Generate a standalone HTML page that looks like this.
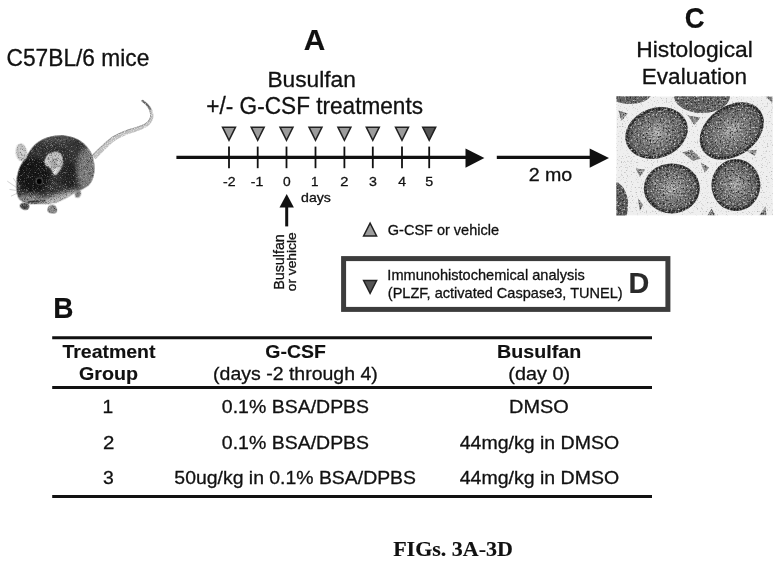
<!DOCTYPE html>
<html><head><meta charset="utf-8"><title>FIGs. 3A-3D</title>
<style>html,body{margin:0;padding:0;background:#fff;}svg{display:block}</style></head>
<body>
<svg width="780" height="565" viewBox="0 0 780 565">
<rect width="780" height="565" fill="#fff"/>
<defs>
<filter id="grainD" x="-5%" y="-5%" width="110%" height="110%" color-interpolation-filters="sRGB">
  <feTurbulence type="fractalNoise" baseFrequency="0.55" numOctaves="2" seed="7" result="n"/>
  <feColorMatrix in="n" type="matrix" values="0 0 0 0 0.92  0 0 0 0 0.92  0 0 0 0 0.92  0 0 0 2.6 -1.38" result="w"/>
  <feComposite in="w" in2="SourceGraphic" operator="in" result="sp"/>
  <feTurbulence type="fractalNoise" baseFrequency="0.6" numOctaves="2" seed="21" result="n2"/>
  <feColorMatrix in="n2" type="matrix" values="0 0 0 0 0.12  0 0 0 0 0.12  0 0 0 0 0.12  0 0 0 3 -1.45" result="k"/>
  <feComposite in="k" in2="SourceGraphic" operator="in" result="sk"/>
  <feMerge><feMergeNode in="SourceGraphic"/><feMergeNode in="sk"/><feMergeNode in="sp"/></feMerge>
</filter>
<filter id="grainL" x="0" y="0" width="100%" height="100%" color-interpolation-filters="sRGB">
  <feTurbulence type="fractalNoise" baseFrequency="0.8" numOctaves="1" seed="4" result="n"/>
  <feColorMatrix in="n" type="matrix" values="0 0 0 0 0.5  0 0 0 0 0.5  0 0 0 0 0.5  0 0 0 2.4 -1.4" result="k"/>
  <feComposite in="k" in2="SourceGraphic" operator="in" result="sk"/>
  <feMerge><feMergeNode in="SourceGraphic"/><feMergeNode in="sk"/></feMerge>
</filter>
<filter id="fur" x="-10%" y="-10%" width="120%" height="120%" color-interpolation-filters="sRGB">
  <feTurbulence type="fractalNoise" baseFrequency="0.22" numOctaves="2" seed="11" result="n"/>
  <feColorMatrix in="n" type="matrix" values="0 0 0 0 1  0 0 0 0 1  0 0 0 0 1  0 0 0 1.5 -0.82" result="w"/>
  <feComposite in="w" in2="SourceGraphic" operator="in" result="sp"/>
  <feTurbulence type="fractalNoise" baseFrequency="0.25" numOctaves="2" seed="31" result="n2"/>
  <feColorMatrix in="n2" type="matrix" values="0 0 0 0 0  0 0 0 0 0  0 0 0 0 0  0 0 0 1.6 -0.8" result="k"/>
  <feComposite in="k" in2="SourceGraphic" operator="in" result="sk"/>
  <feMerge><feMergeNode in="SourceGraphic"/><feMergeNode in="sk"/><feMergeNode in="sp"/></feMerge>
</filter>
<filter id="furT" x="-10%" y="-10%" width="120%" height="120%" color-interpolation-filters="sRGB">
  <feTurbulence type="fractalNoise" baseFrequency="0.9" numOctaves="1" seed="5" result="n"/>
  <feColorMatrix in="n" type="matrix" values="0 0 0 0 1  0 0 0 0 1  0 0 0 0 1  0 0 0 2.4 -1.1" result="w"/>
  <feComposite in="w" in2="SourceGraphic" operator="in" result="sp"/>
  <feMerge><feMergeNode in="SourceGraphic"/><feMergeNode in="sp"/></feMerge>
</filter>
<radialGradient id="tub" cx="50%" cy="50%" r="50%">
  <stop offset="0" stop-color="#b2b2b2"/><stop offset="0.35" stop-color="#858585"/><stop offset="0.8" stop-color="#666"/><stop offset="1" stop-color="#464646"/>
</radialGradient>
<radialGradient id="bodyg" cx="40%" cy="35%" r="75%">
  <stop offset="0" stop-color="#222"/><stop offset="0.55" stop-color="#333"/><stop offset="0.85" stop-color="#5a5a5a"/><stop offset="1" stop-color="#888"/>
</radialGradient>
<clipPath id="hclip"><rect x="616.3" y="96.3" width="156.6" height="119.3"/></clipPath>
</defs>
<!-- histology panel -->
<g clip-path="url(#hclip)">
<rect x="616.3" y="96.3" width="156.6" height="119.3" fill="#efefef" filter="url(#grainL)"/>
<g filter="url(#grainD)">
<g fill="#8a8a8a">
<polygon points="618.5,110.5 627.7,113.6 621.5,120.8"/>
<polygon points="688.0,115.6 700.4,117.7 694.2,124.9"/>
<polygon points="682.3,152.5 691.7,149.4 700.9,158.7 692.7,160.8"/>
<polygon points="635.8,168.5 645.1,169.5 639.9,176.7"/>
<polygon points="700.7,162.5 709.0,167.6 704.9,172.7"/>
<polygon points="746.5,150.7 756.8,149.7 754.7,155.9"/>
<polygon points="637.9,198.6 643.0,204.8 639.9,211.0"/>
<polygon points="707.4,215.4 711.5,208.7 715.6,215.4"/>
<polygon points="759.3,215.2 765.4,206.4 766.5,215.2"/>
<polygon points="765.6,96.6 772.4,96.6 772.4,102.8"/>
</g>
<ellipse cx="656.5" cy="133" rx="32" ry="25" transform="rotate(-20 656.5 133)" fill="url(#tub)"/>
<ellipse cx="731.8" cy="131" rx="35" ry="25" transform="rotate(-35 731.8 131)" fill="url(#tub)"/>
<ellipse cx="671.8" cy="188.4" rx="28" ry="25" fill="url(#tub)"/>
<ellipse cx="735.9" cy="185.1" rx="24.5" ry="26" fill="url(#tub)"/>
<g fill="none" stroke="#1c1c1c" stroke-width="2.2" stroke-dasharray="1.6 1.5">
<ellipse cx="656.5" cy="133" rx="30.2" ry="23.2" transform="rotate(-20 656.5 133)"/>
<ellipse cx="731.8" cy="131" rx="33.2" ry="23.2" transform="rotate(-35 731.8 131)"/>
<ellipse cx="671.8" cy="188.4" rx="26.2" ry="23.2"/>
<ellipse cx="735.9" cy="185.1" rx="22.7" ry="24.2"/>
</g>
<ellipse cx="702" cy="96" rx="28" ry="17" fill="#666"/>
<ellipse cx="630" cy="92" rx="22" ry="12" fill="#666"/>
<ellipse cx="614" cy="205" rx="14" ry="23" fill="#5a5a5a"/>
</g>
</g>
<!-- mouse -->
<g filter="url(#furT)">
<path d="M95.6,159.3 L96.6,158.3 L97.6,157.2 L98.6,156.1 L99.6,155.1 L100.6,154.1 L101.6,153.0 L102.7,151.9 L103.8,150.8 L105.1,149.6 L106.4,148.3 L107.8,147.0 L109.1,145.6 L110.5,144.4 L111.9,143.1 L113.3,142.0 L114.7,141.0 L116.1,140.0 L117.6,139.1 L119.1,138.3 L120.6,137.5 L122.2,136.8 L123.8,136.0 L125.4,135.3 L126.9,134.7 L128.5,134.0 L130.1,133.4 L131.7,132.9 L133.3,132.4 L135.0,131.9 L136.6,131.3 L138.1,130.8 L139.6,130.2 L140.9,129.7 L142.1,129.2 L143.3,128.6 L144.4,128.1 L145.5,127.5 L146.6,126.9 L147.6,126.2 L148.5,125.5 L149.4,124.7 L150.2,123.8 L150.9,122.9 L151.5,122.0 L152.1,121.1 L152.5,120.1 L152.9,119.1 L153.2,118.1 L153.4,117.0 L153.4,116.0 L153.4,114.9 L153.3,113.9 L153.1,112.9 L152.8,111.9 L152.6,111.0 L152.3,110.1 L151.9,109.2 L151.5,108.4 L151.0,107.6 L150.5,106.8 L150.0,106.1 L149.4,105.4 L148.9,104.7 L148.3,104.1 L147.7,103.4 L147.0,102.8 L146.3,102.3 L145.7,101.8 L145.0,101.3 L144.3,100.8 L143.7,100.3 L143.0,99.8 L141.6,101.5 L142.3,102.1 L142.9,102.6 L143.5,103.1 L144.2,103.6 L144.8,104.2 L145.3,104.7 L145.8,105.2 L146.3,105.8 L146.8,106.4 L147.3,107.0 L147.7,107.7 L148.2,108.3 L148.6,109.0 L148.9,109.7 L149.2,110.4 L149.4,111.1 L149.6,111.8 L149.8,112.6 L150.0,113.5 L150.1,114.3 L150.1,115.1 L150.1,115.9 L150.1,116.6 L149.9,117.2 L149.7,117.9 L149.3,118.6 L149.0,119.3 L148.5,120.0 L148.0,120.7 L147.4,121.4 L146.8,122.0 L146.1,122.6 L145.4,123.1 L144.6,123.6 L143.7,124.0 L142.7,124.5 L141.7,124.9 L140.5,125.4 L139.3,125.8 L138.1,126.3 L136.7,126.8 L135.3,127.2 L133.7,127.7 L132.1,128.2 L130.4,128.6 L128.6,129.2 L126.9,129.8 L125.2,130.4 L123.6,131.1 L121.9,131.7 L120.2,132.4 L118.6,133.2 L116.9,134.0 L115.2,134.9 L113.6,135.8 L111.9,136.8 L110.3,138.0 L108.7,139.2 L107.1,140.5 L105.6,141.8 L104.2,143.1 L102.8,144.4 L101.4,145.7 L100.1,146.8 L98.9,148.0 L97.7,149.1 L96.6,150.1 L95.6,151.2 L94.5,152.2 L93.5,153.2 L92.5,154.2 L91.4,155.3Z" fill="#bdbdbd"/>
<path d="M92.1,155.9 L93.1,154.8 L94.1,153.8 L95.1,152.8 L96.2,151.8 L97.2,150.7 L98.3,149.7 L99.5,148.6 L100.7,147.4 L102.0,146.3 L103.3,145.0 L104.7,143.7 L106.2,142.4 L107.7,141.1 L109.2,139.8 L110.8,138.6 L112.3,137.4 L113.9,136.4 L115.6,135.5 L117.2,134.6 L118.9,133.8 L120.5,133.1 L122.2,132.4 L123.8,131.7 L125.5,131.0 L127.1,130.4 L128.8,129.8 L130.6,129.3 L132.3,128.8 L133.9,128.3 L135.5,127.9 L136.9,127.4 L138.3,126.9 L139.6,126.4 L140.8,125.9 L141.9,125.5 L143.0,125.0 L144.0,124.6 L144.9,124.1 L145.7,123.6 L146.5,123.0 L147.2,122.4 L147.8,121.7 L148.4,121.0 L148.9,120.3 L149.4,119.6 L149.8,118.8 L150.1,118.1 L150.4,117.4 L150.6,116.6 L150.6,115.9 L150.6,115.1 L150.6,114.2 L150.4,113.4 L150.3,112.5 L150.1,111.7 L149.8,110.9 L149.6,110.2 L149.3,109.5 L148.9,108.8 L148.5,108.1 L148.1,107.4 L147.6,106.8 L147.1,106.1 L146.6,105.5 L146.1,104.9 L145.6,104.4 L145.0,103.9 L144.4,103.4 L143.8,102.8 L143.1,102.3 L142.5,101.8 L141.9,101.3" fill="none" stroke="#8a8a8a" stroke-width="0.9"/>
<path d="M150.2,109.0 L149.8,108.3 L149.3,107.6 L148.9,106.9 L148.4,106.2 L147.8,105.5 L147.3,104.9 L146.7,104.3 L146.2,103.8 L145.5,103.2 L144.9,102.7 L144.3,102.2 L143.6,101.7 L143.0,101.2 L142.3,100.7" fill="none" stroke="#5e5e5e" stroke-width="1.7" stroke-linecap="round"/>
</g>
<svg x="5" y="130" width="100" height="85" viewBox="0 0 665 565" overflow="visible">
<defs>
<clipPath id="bodyclip"><path d="M85,440 C70,400 75,330 85,290 C95,250 110,215 140,190 C150,160 175,115 215,85 C260,50 330,30 400,38 C470,45 540,85 575,160 C600,220 600,300 572,345 C550,380 510,395 470,415 C430,438 390,462 340,482 C300,494 230,495 190,492 C150,490 120,480 105,468 C95,460 88,450 85,440 Z"/></clipPath>
<filter id="b12" x="-30%" y="-30%" width="160%" height="160%"><feGaussianBlur stdDeviation="14"/></filter>
<filter id="b6" x="-30%" y="-30%" width="160%" height="160%"><feGaussianBlur stdDeviation="5"/></filter>
<filter id="b3" x="-30%" y="-30%" width="160%" height="160%"><feGaussianBlur stdDeviation="2.5"/></filter>
</defs>
<g filter="url(#fur)">
<!-- feet behind -->
<ellipse cx="485" cy="425" rx="18" ry="24" transform="rotate(20 485 425)" fill="#7a7a7a" filter="url(#b3)"/>
<path d="M100,500 C105,485 130,480 150,490 C165,498 165,520 150,528 C135,535 120,530 112,522 C102,518 97,510 100,500Z" fill="#4c4c4c" filter="url(#b3)"/>
<path d="M285,515 C290,495 330,490 340,510 C350,525 352,545 335,552 C320,558 300,556 290,548 C278,540 280,525 285,515Z" fill="#8a8a8a" filter="url(#b3)"/>
<!-- left ear -->
<ellipse cx="108" cy="148" rx="36" ry="58" transform="rotate(-6 108 148)" fill="#bcbcbc" filter="url(#b3)"/>
<ellipse cx="112" cy="150" rx="20" ry="40" transform="rotate(-6 112 150)" fill="#cfcfcf" filter="url(#b6)"/>
<!-- body -->
<g filter="url(#b3)">
<path d="M85,440 C70,400 75,330 85,290 C95,250 110,215 140,190 C150,160 175,115 215,85 C260,50 330,30 400,38 C470,45 540,85 575,160 C600,220 600,300 572,345 C550,380 510,395 470,415 C430,438 390,462 340,482 C300,494 230,495 190,492 C150,490 120,480 105,468 C95,460 88,450 85,440 Z" fill="#363636"/>
</g>
<g clip-path="url(#bodyclip)">
<ellipse cx="185" cy="300" rx="115" ry="115" fill="#121212" filter="url(#b12)"/>
<ellipse cx="550" cy="265" rx="75" ry="150" fill="#7c7c7c" filter="url(#b12)"/>
<ellipse cx="420" cy="300" rx="50" ry="90" fill="#1e1e1e" opacity="0.7" filter="url(#b12)"/>
<ellipse cx="370" cy="480" rx="200" ry="60" transform="rotate(-16 370 480)" fill="#b8b8b8" filter="url(#b12)"/>
<ellipse cx="160" cy="462" rx="95" ry="32" fill="#909090" filter="url(#b12)"/>
<ellipse cx="330" cy="60" rx="130" ry="22" fill="#555" filter="url(#b12)"/>
</g>
<!-- right ear -->
<path d="M262,215 C262,180 290,150 330,145 C365,142 388,170 385,210 C383,245 365,275 345,295 C335,303 322,298 318,285 C312,265 300,250 285,245 C270,240 262,232 262,215Z" fill="#c6c6c6" filter="url(#b3)"/>
<path d="M300,230 C300,205 318,185 340,185 C352,200 345,240 330,270 C322,255 312,240 300,230Z" fill="#a9a9a9" filter="url(#b6)"/>
<ellipse cx="333" cy="275" rx="14" ry="20" fill="#e2e2e2" filter="url(#b6)"/>
<!-- eye -->
<!-- mouth line -->
<path d="M150,480 C190,470 230,478 270,470" stroke="#222" stroke-width="7" fill="none" filter="url(#b3)"/>
</g>
<ellipse cx="228" cy="340" rx="27" ry="27" fill="#4a4a4a" opacity="0.8" filter="url(#b6)"/>
<ellipse cx="228" cy="341" rx="16" ry="18" fill="#000" filter="url(#b3)"/>
<g stroke="#9a9a9a" stroke-width="3" fill="none" filter="url(#b3)">
<path d="M95,395 L15,340"/><path d="M92,405 L30,395"/><path d="M98,385 L55,320"/><path d="M92,415 L40,440"/><path d="M100,380 L75,330"/>
</g>
</svg>
<!-- timeline -->
<g stroke="#111" fill="none">
<line x1="176.4" y1="157.4" x2="468" y2="157.4" stroke-width="3.1"/>
<line x1="496.8" y1="157.4" x2="592" y2="157.4" stroke-width="3.1"/>
<g stroke-width="1.8"><line x1="229" y1="146.6" x2="229" y2="168.2"/><line x1="257.7" y1="146.6" x2="257.7" y2="168.2"/><line x1="286.5" y1="146.6" x2="286.5" y2="168.2"/><line x1="315.5" y1="146.6" x2="315.5" y2="168.2"/><line x1="344.4" y1="146.6" x2="344.4" y2="168.2"/><line x1="372.8" y1="146.6" x2="372.8" y2="168.2"/><line x1="402" y1="146.6" x2="402" y2="168.2"/><line x1="429.2" y1="146.6" x2="429.2" y2="168.2"/></g>
</g>
<polygon points="465.5,148.6 484.4,158 465.5,167.8" fill="#111"/>
<polygon points="589.7,148.6 609,158 589.7,167.8" fill="#111"/>
<!-- triangles -->
<g fill="#9c9c9c" stroke="#222" stroke-width="1.5" stroke-linejoin="miter">
<polygon points="222.5,127.15 235.5,127.15 229.0,140.3"/>
<polygon points="251.2,127.15 264.2,127.15 257.7,140.3"/>
<polygon points="280.0,127.15 293.0,127.15 286.5,140.3"/>
<polygon points="309.0,127.15 322.0,127.15 315.5,140.3"/>
<polygon points="337.9,127.15 350.9,127.15 344.4,140.3"/>
<polygon points="366.3,127.15 379.3,127.15 372.8,140.3"/>
<polygon points="395.5,127.15 408.5,127.15 402.0,140.3"/>
<polygon points="422.7,127.15 435.7,127.15 429.2,140.3" fill="#555"/>
<polygon points="363.6,236.0 376.6,236.0 370.1,223.2"/>
<polygon points="363.6,280.6 376.6,280.6 370.1,293.4" fill="#555"/>
</g>
<!-- up arrow -->
<line x1="286.7" y1="206" x2="286.7" y2="226.4" stroke="#111" stroke-width="3"/>
<polygon points="279.5,207.5 293.9,207.5 286.7,194" fill="#111"/>
<!-- box D -->
<rect x="343.6" y="258.6" width="324.3" height="50.8" fill="none" stroke="#3c3c3c" stroke-width="5"/>
<!-- table rules -->
<g stroke="#111" stroke-width="3">
<line x1="52.2" y1="337.7" x2="652" y2="337.7"/>
<line x1="52.2" y1="387.4" x2="652" y2="387.4"/>
<line x1="52.2" y1="496.5" x2="652" y2="496.5"/>
</g>

<text x="6.53" y="66.40" font-family='"Liberation Sans", sans-serif' font-weight="normal" font-size="23.4" fill="#111" stroke="#111" stroke-width="0.3" textLength="142.79" lengthAdjust="spacingAndGlyphs">C57BL/6 mice</text>
<text x="303.73" y="49.70" font-family='"Liberation Sans", sans-serif' font-weight="bold" font-size="29.3" fill="#111" stroke="#111" stroke-width="0.15" textLength="21.53" lengthAdjust="spacingAndGlyphs">A</text>
<text x="267.42" y="86.50" font-family='"Liberation Sans", sans-serif' font-weight="normal" font-size="22.6" fill="#111" stroke="#111" stroke-width="0.3" textLength="88.45" lengthAdjust="spacingAndGlyphs">Busulfan</text>
<text x="206.34" y="113.70" font-family='"Liberation Sans", sans-serif' font-weight="normal" font-size="23" fill="#111" stroke="#111" stroke-width="0.3" textLength="216.67" lengthAdjust="spacingAndGlyphs">+/- G-CSF treatments</text>
<text x="684.64" y="28.00" font-family='"Liberation Sans", sans-serif' font-weight="bold" font-size="29.6" fill="#111" stroke="#111" stroke-width="0.15" textLength="19.88" lengthAdjust="spacingAndGlyphs">C</text>
<text x="636.22" y="56.80" font-family='"Liberation Sans", sans-serif' font-weight="normal" font-size="22.7" fill="#111" stroke="#111" stroke-width="0.3" textLength="116.58" lengthAdjust="spacingAndGlyphs">Histological</text>
<text x="641.84" y="84.10" font-family='"Liberation Sans", sans-serif' font-weight="normal" font-size="22.7" fill="#111" stroke="#111" stroke-width="0.3" textLength="105.23" lengthAdjust="spacingAndGlyphs">Evaluation</text>
<text x="222.96" y="186.30" font-family='"Liberation Sans", sans-serif' font-weight="normal" font-size="13" fill="#111" stroke="#111" stroke-width="0.3" textLength="12.51" lengthAdjust="spacingAndGlyphs">-2</text>
<text x="250.86" y="186.30" font-family='"Liberation Sans", sans-serif' font-weight="normal" font-size="13" fill="#111" stroke="#111" stroke-width="0.3" textLength="12.51" lengthAdjust="spacingAndGlyphs">-1</text>
<text x="283.07" y="186.30" font-family='"Liberation Sans", sans-serif' font-weight="normal" font-size="13" fill="#111" stroke="#111" stroke-width="0.3" textLength="7.67" lengthAdjust="spacingAndGlyphs">0</text>
<text x="311.08" y="186.30" font-family='"Liberation Sans", sans-serif' font-weight="normal" font-size="13" fill="#111" stroke="#111" stroke-width="0.3" textLength="7.45" lengthAdjust="spacingAndGlyphs">1</text>
<text x="340.31" y="186.30" font-family='"Liberation Sans", sans-serif' font-weight="normal" font-size="13" fill="#111" stroke="#111" stroke-width="0.3" textLength="8.19" lengthAdjust="spacingAndGlyphs">2</text>
<text x="368.95" y="186.30" font-family='"Liberation Sans", sans-serif' font-weight="normal" font-size="13" fill="#111" stroke="#111" stroke-width="0.3" textLength="7.92" lengthAdjust="spacingAndGlyphs">3</text>
<text x="398.18" y="186.30" font-family='"Liberation Sans", sans-serif' font-weight="normal" font-size="13" fill="#111" stroke="#111" stroke-width="0.3" textLength="7.77" lengthAdjust="spacingAndGlyphs">4</text>
<text x="425.35" y="186.30" font-family='"Liberation Sans", sans-serif' font-weight="normal" font-size="13" fill="#111" stroke="#111" stroke-width="0.3" textLength="7.92" lengthAdjust="spacingAndGlyphs">5</text>
<text x="301.06" y="201.60" font-family='"Liberation Sans", sans-serif' font-weight="normal" font-size="13.2" fill="#111" stroke="#111" stroke-width="0.3" textLength="29.78" lengthAdjust="spacingAndGlyphs">days</text>
<text x="528.68" y="181.00" font-family='"Liberation Sans", sans-serif' font-weight="normal" font-size="17.8" fill="#111" stroke="#111" stroke-width="0.3" textLength="43.61" lengthAdjust="spacingAndGlyphs">2 mo</text>
<text x="387.82" y="235.40" font-family='"Liberation Sans", sans-serif' font-weight="normal" font-size="14.4" fill="#111" stroke="#111" stroke-width="0.3" textLength="111.17" lengthAdjust="spacingAndGlyphs">G-CSF or vehicle</text>
<text x="387.36" y="280.30" font-family='"Liberation Sans", sans-serif' font-weight="normal" font-size="14.3" fill="#111" stroke="#111" stroke-width="0.3" textLength="197.49" lengthAdjust="spacingAndGlyphs">Immunohistochemical analysis</text>
<text x="387.82" y="298.30" font-family='"Liberation Sans", sans-serif' font-weight="normal" font-size="14.3" fill="#111" stroke="#111" stroke-width="0.3" textLength="234.83" lengthAdjust="spacingAndGlyphs">(PLZF, activated Caspase3, TUNEL)</text>
<text x="628.60" y="292.50" font-family='"Liberation Sans", sans-serif' font-weight="bold" font-size="29.3" fill="#2a2a2a" stroke="#2a2a2a" stroke-width="0.15" textLength="20.80" lengthAdjust="spacingAndGlyphs">D</text>
<text x="53.15" y="318.20" font-family='"Liberation Sans", sans-serif' font-weight="bold" font-size="29.3" fill="#111" stroke="#111" stroke-width="0.15" textLength="20.22" lengthAdjust="spacingAndGlyphs">B</text>
<text x="62.40" y="357.80" font-family='"Liberation Sans", sans-serif' font-weight="bold" font-size="19" fill="#111" stroke="#111" stroke-width="0.15" textLength="93.10" lengthAdjust="spacingAndGlyphs">Treatment</text>
<text x="79.09" y="380.10" font-family='"Liberation Sans", sans-serif' font-weight="bold" font-size="19" fill="#111" stroke="#111" stroke-width="0.15" textLength="58.96" lengthAdjust="spacingAndGlyphs">Group</text>
<text x="265.39" y="358.40" font-family='"Liberation Sans", sans-serif' font-weight="bold" font-size="19" fill="#111" stroke="#111" stroke-width="0.15" textLength="60.44" lengthAdjust="spacingAndGlyphs">G-CSF</text>
<text x="213.09" y="379.60" font-family='"Liberation Sans", sans-serif' font-weight="normal" font-size="19" fill="#111" stroke="#111" stroke-width="0.3" textLength="164.72" lengthAdjust="spacingAndGlyphs">(days -2 through 4)</text>
<text x="497.07" y="357.90" font-family='"Liberation Sans", sans-serif' font-weight="bold" font-size="19" fill="#111" stroke="#111" stroke-width="0.15" textLength="84.08" lengthAdjust="spacingAndGlyphs">Busulfan</text>
<text x="508.37" y="379.80" font-family='"Liberation Sans", sans-serif' font-weight="normal" font-size="19" fill="#111" stroke="#111" stroke-width="0.3" textLength="61.65" lengthAdjust="spacingAndGlyphs">(day 0)</text>
<text x="102.63" y="413.40" font-family='"Liberation Sans", sans-serif' font-weight="normal" font-size="18.7" fill="#111" stroke="#111" stroke-width="0.3" textLength="10.71" lengthAdjust="spacingAndGlyphs">1</text>
<text x="103.04" y="448.70" font-family='"Liberation Sans", sans-serif' font-weight="normal" font-size="18.7" fill="#111" stroke="#111" stroke-width="0.3" textLength="11.39" lengthAdjust="spacingAndGlyphs">2</text>
<text x="103.09" y="483.80" font-family='"Liberation Sans", sans-serif' font-weight="normal" font-size="18.7" fill="#111" stroke="#111" stroke-width="0.3" textLength="10.79" lengthAdjust="spacingAndGlyphs">3</text>
<text x="221.89" y="413.40" font-family='"Liberation Sans", sans-serif' font-weight="normal" font-size="18.7" fill="#111" stroke="#111" stroke-width="0.3" textLength="147.23" lengthAdjust="spacingAndGlyphs">0.1% BSA/DPBS</text>
<text x="221.89" y="448.70" font-family='"Liberation Sans", sans-serif' font-weight="normal" font-size="18.7" fill="#111" stroke="#111" stroke-width="0.3" textLength="147.23" lengthAdjust="spacingAndGlyphs">0.1% BSA/DPBS</text>
<text x="174.39" y="483.90" font-family='"Liberation Sans", sans-serif' font-weight="normal" font-size="18.7" fill="#111" stroke="#111" stroke-width="0.3" textLength="241.62" lengthAdjust="spacingAndGlyphs">50ug/kg in 0.1% BSA/DPBS</text>
<text x="509.04" y="413.40" font-family='"Liberation Sans", sans-serif' font-weight="normal" font-size="18.7" fill="#111" stroke="#111" stroke-width="0.3" textLength="59.72" lengthAdjust="spacingAndGlyphs">DMSO</text>
<text x="459.70" y="448.60" font-family='"Liberation Sans", sans-serif' font-weight="normal" font-size="18.7" fill="#111" stroke="#111" stroke-width="0.3" textLength="159.45" lengthAdjust="spacingAndGlyphs">44mg/kg in DMSO</text>
<text x="459.70" y="483.80" font-family='"Liberation Sans", sans-serif' font-weight="normal" font-size="18.7" fill="#111" stroke="#111" stroke-width="0.3" textLength="159.45" lengthAdjust="spacingAndGlyphs">44mg/kg in DMSO</text>
<text x="393.16" y="556.00" font-family='"Liberation Serif", serif' font-weight="bold" font-size="20.3" fill="#111" stroke="#111" stroke-width="0.15" textLength="119.71" lengthAdjust="spacingAndGlyphs">FIGs. 3A-3D</text>
<text transform="translate(284.40,288.70) rotate(-90)" x="-1.12" y="0" font-family='"Liberation Sans", sans-serif' font-weight="normal" font-size="14.5" fill="#111" stroke="#111" stroke-width="0.3" textLength="55.62" lengthAdjust="spacingAndGlyphs">Busulfan</text>
<text transform="translate(296.00,290.70) rotate(-90)" x="-0.55" y="0" font-family='"Liberation Sans", sans-serif' font-weight="normal" font-size="12.5" fill="#111" stroke="#111" stroke-width="0.3" textLength="58.86" lengthAdjust="spacingAndGlyphs">or vehicle</text>
</svg>
</body></html>
